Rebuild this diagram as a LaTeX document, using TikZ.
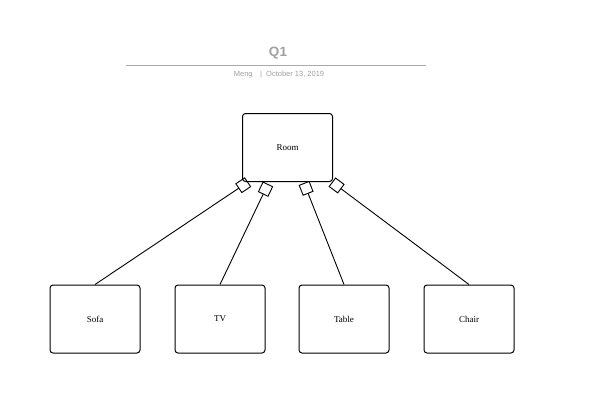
\documentclass[tikz,border=0pt]{standalone}
\usepackage{fontspec}
\setmainfont{Liberation Serif}
\newfontfamily\titlefont{Liberation Sans}
\usetikzlibrary{arrows.meta}
\definecolor{titlegray}{RGB}{160,160,160}
\definecolor{rulegray}{RGB}{170,170,170}
\begin{document}
\begin{tikzpicture}[x=1pt,y=-1pt,
  box/.style={draw, line width=1pt, rounded corners=3pt, minimum width=90pt, minimum height=68pt, inner sep=0pt, font=\fontsize{9}{10}\selectfont},
  agg/.style={line width=0.9pt, {Square[open,length=11.5pt,width=11.5pt,line width=0.9pt]}-}]
\useasboundingbox (0,0) rectangle (600,408);
\node[font=\titlefont\bfseries\fontsize{13.5}{15}\selectfont, text=titlegray] (title) at (278,53) {Q1};
\coordinate (rl) at (126,65.5);
\coordinate (rr) at (426,65.5);
\draw[rulegray, line width=0.8pt] (rl) -- (rr);
\node[font=\titlefont\fontsize{7.5}{9}\selectfont, text=titlegray] (sub) at (279,75) {Meng\quad|\ \ October 13, 2019};
\node[box] (room) at (287.5,147.5) {Room};
\node[box] (sofa) at (95,319) {Sofa};
\node[box] (tv) at (220,319) {TV};
\node[box] (table) at (344,319) {Table};
\node[box] (chair) at (469,319) {Chair};
\coordinate (a1) at (248,182);
\coordinate (a2) at (268,184);
\coordinate (a3) at (304,183);
\coordinate (a4) at (332,182);
\draw[agg] (a1) -- (sofa.north);
\draw[agg] (a2) -- (tv.north);
\draw[agg] (a3) -- (table.north);
\draw[agg] (a4) -- (chair.north);
\end{tikzpicture}
\end{document}
